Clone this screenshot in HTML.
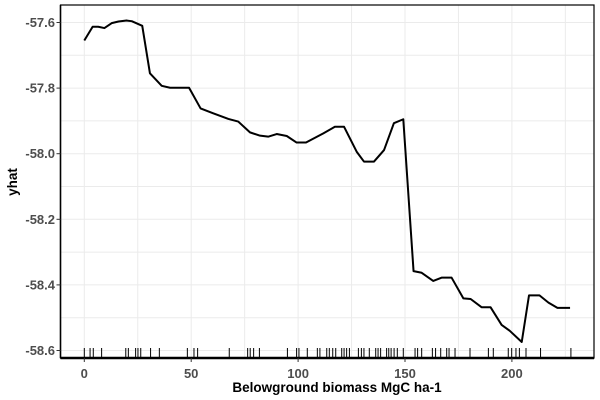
<!DOCTYPE html>
<html><head><meta charset="utf-8"><style>
body{margin:0;background:#fff;}
svg{display:block;font-family:"Liberation Sans",Arial,sans-serif;}
</style></head><body>
<svg id="chart" width="600" height="400">
<g id="grid"></g>
<g id="marks"></g>
<g id="axes"></g>
<text x="337" y="392" text-anchor="middle" font-size="13.5" font-weight="bold" fill="#000">Belowground biomass MgC ha-1</text>
<text transform="translate(17,182) rotate(-90)" text-anchor="middle" font-size="13.5" font-weight="bold" fill="#000">yhat</text>
</svg>
<script>
const xVals=[0,3.9,6.5,9.4,12.8,16,19.8,22.2,27.1,30.7,36.2,40.1,49,54.4,60.3,67.4,72,77.5,82.2,86,90,94.7,99.3,103.7,111.8,117.2,121.5,127.4,130.8,135.5,140.2,144.8,149.2,154,157.8,163.2,167.1,171.8,177.3,180.7,185.8,190,195.2,199,204.6,208,212.9,217.1,221.3,227.2];
const yVals=[-57.655,-57.613,-57.613,-57.617,-57.602,-57.597,-57.594,-57.596,-57.61,-57.755,-57.793,-57.799,-57.799,-57.862,-57.877,-57.894,-57.902,-57.935,-57.945,-57.948,-57.94,-57.946,-57.966,-57.966,-57.938,-57.918,-57.918,-57.994,-58.024,-58.024,-57.989,-57.907,-57.895,-58.358,-58.363,-58.388,-58.378,-58.378,-58.441,-58.443,-58.468,-58.468,-58.522,-58.54,-58.574,-58.432,-58.432,-58.454,-58.47,-58.47];
const rugVals=[0,2.7,4.2,8.1,19.4,20.6,24.0,25.1,26.4,31.0,35.1,48.2,51.3,53.0,67.8,76.4,77.6,79.2,81.9,95.0,99.3,100.4,104.3,109.0,110.2,113.4,114.6,116.2,117.6,120.4,121.5,122.7,124.0,128.2,129.6,130.8,133.3,136.3,137.4,138.6,141.4,142.4,143.5,144.9,146.4,149.2,154.7,155.9,157.8,162.8,164.3,166.7,169.5,170.6,173.4,180.4,189.0,191.3,198.3,199.9,201.9,203.5,206.6,213.4,227.6];
const xTicks=[0,50,100,150,200];
const yTicks=[-57.6,-57.8,-58.0,-58.2,-58.4,-58.6];
const xMinor=[25,75,125,175,225];
const yMinor=[-57.7,-57.9,-58.1,-58.3,-58.5];
const L=60.5,R=594,T=5,B=358;
const sx=v=>84.3+v*2.138;
const sy=v=>22.5+(-57.6-v)*328;
const NS="http://www.w3.org/2000/svg";
function mk(tag,attrs,parent){const e=document.createElementNS(NS,tag);for(const k in attrs)e.setAttribute(k,attrs[k]);parent.appendChild(e);return e;}
const grid=document.getElementById('grid'),marks=document.getElementById('marks'),axes=document.getElementById('axes');
xTicks.concat(xMinor).forEach(v=>{const l=mk('line',{x1:sx(v),x2:sx(v),y1:T,y2:B,stroke:'#EBEBEB','stroke-width':1},grid);

});
yTicks.concat(yMinor).forEach(v=>{const l=mk('line',{x1:L,x2:R,y1:sy(v),y2:sy(v),stroke:'#EBEBEB','stroke-width':1},grid);

});
rugVals.forEach(v=>{const l=mk('line',{x1:sx(v),x2:sx(v),y1:348,y2:357,stroke:'#000','stroke-width':1},marks);

});
const p=mk('polyline',{points:xVals.map((x,i)=>sx(x)+','+sy(yVals[i])).join(' '),fill:'none',stroke:'#000','stroke-width':2,'stroke-linejoin':'round'},marks);


const fr=mk('rect',{x:L,y:T,width:R-L,height:B-T,fill:'none',stroke:'#000','stroke-width':1.2},axes);


const xa=mk('line',{x1:L,x2:R,y1:B,y2:B,stroke:'#000','stroke-width':2.5},axes);


const ya=mk('line',{x1:L,x2:L,y1:T,y2:B,stroke:'#000','stroke-width':1.5},axes);


xTicks.forEach(v=>{const t=mk('line',{x1:sx(v),x2:sx(v),y1:B,y2:B+4,stroke:'#333','stroke-width':1},axes);


const tx=mk('text',{x:sx(v),y:378,'text-anchor':'middle','font-size':13,'font-weight':'bold',fill:'#4D4D4D'},axes);tx.textContent=String(v);

});
yTicks.forEach(v=>{const t=mk('line',{x1:L-4,x2:L,y1:sy(v),y2:sy(v),stroke:'#333','stroke-width':1},axes);


const tx=mk('text',{x:55,y:sy(v)+4.5,'text-anchor':'end','font-size':13,'font-weight':'bold',fill:'#4D4D4D'},axes);tx.textContent=v.toFixed(1);

});
</script>
</body></html>
